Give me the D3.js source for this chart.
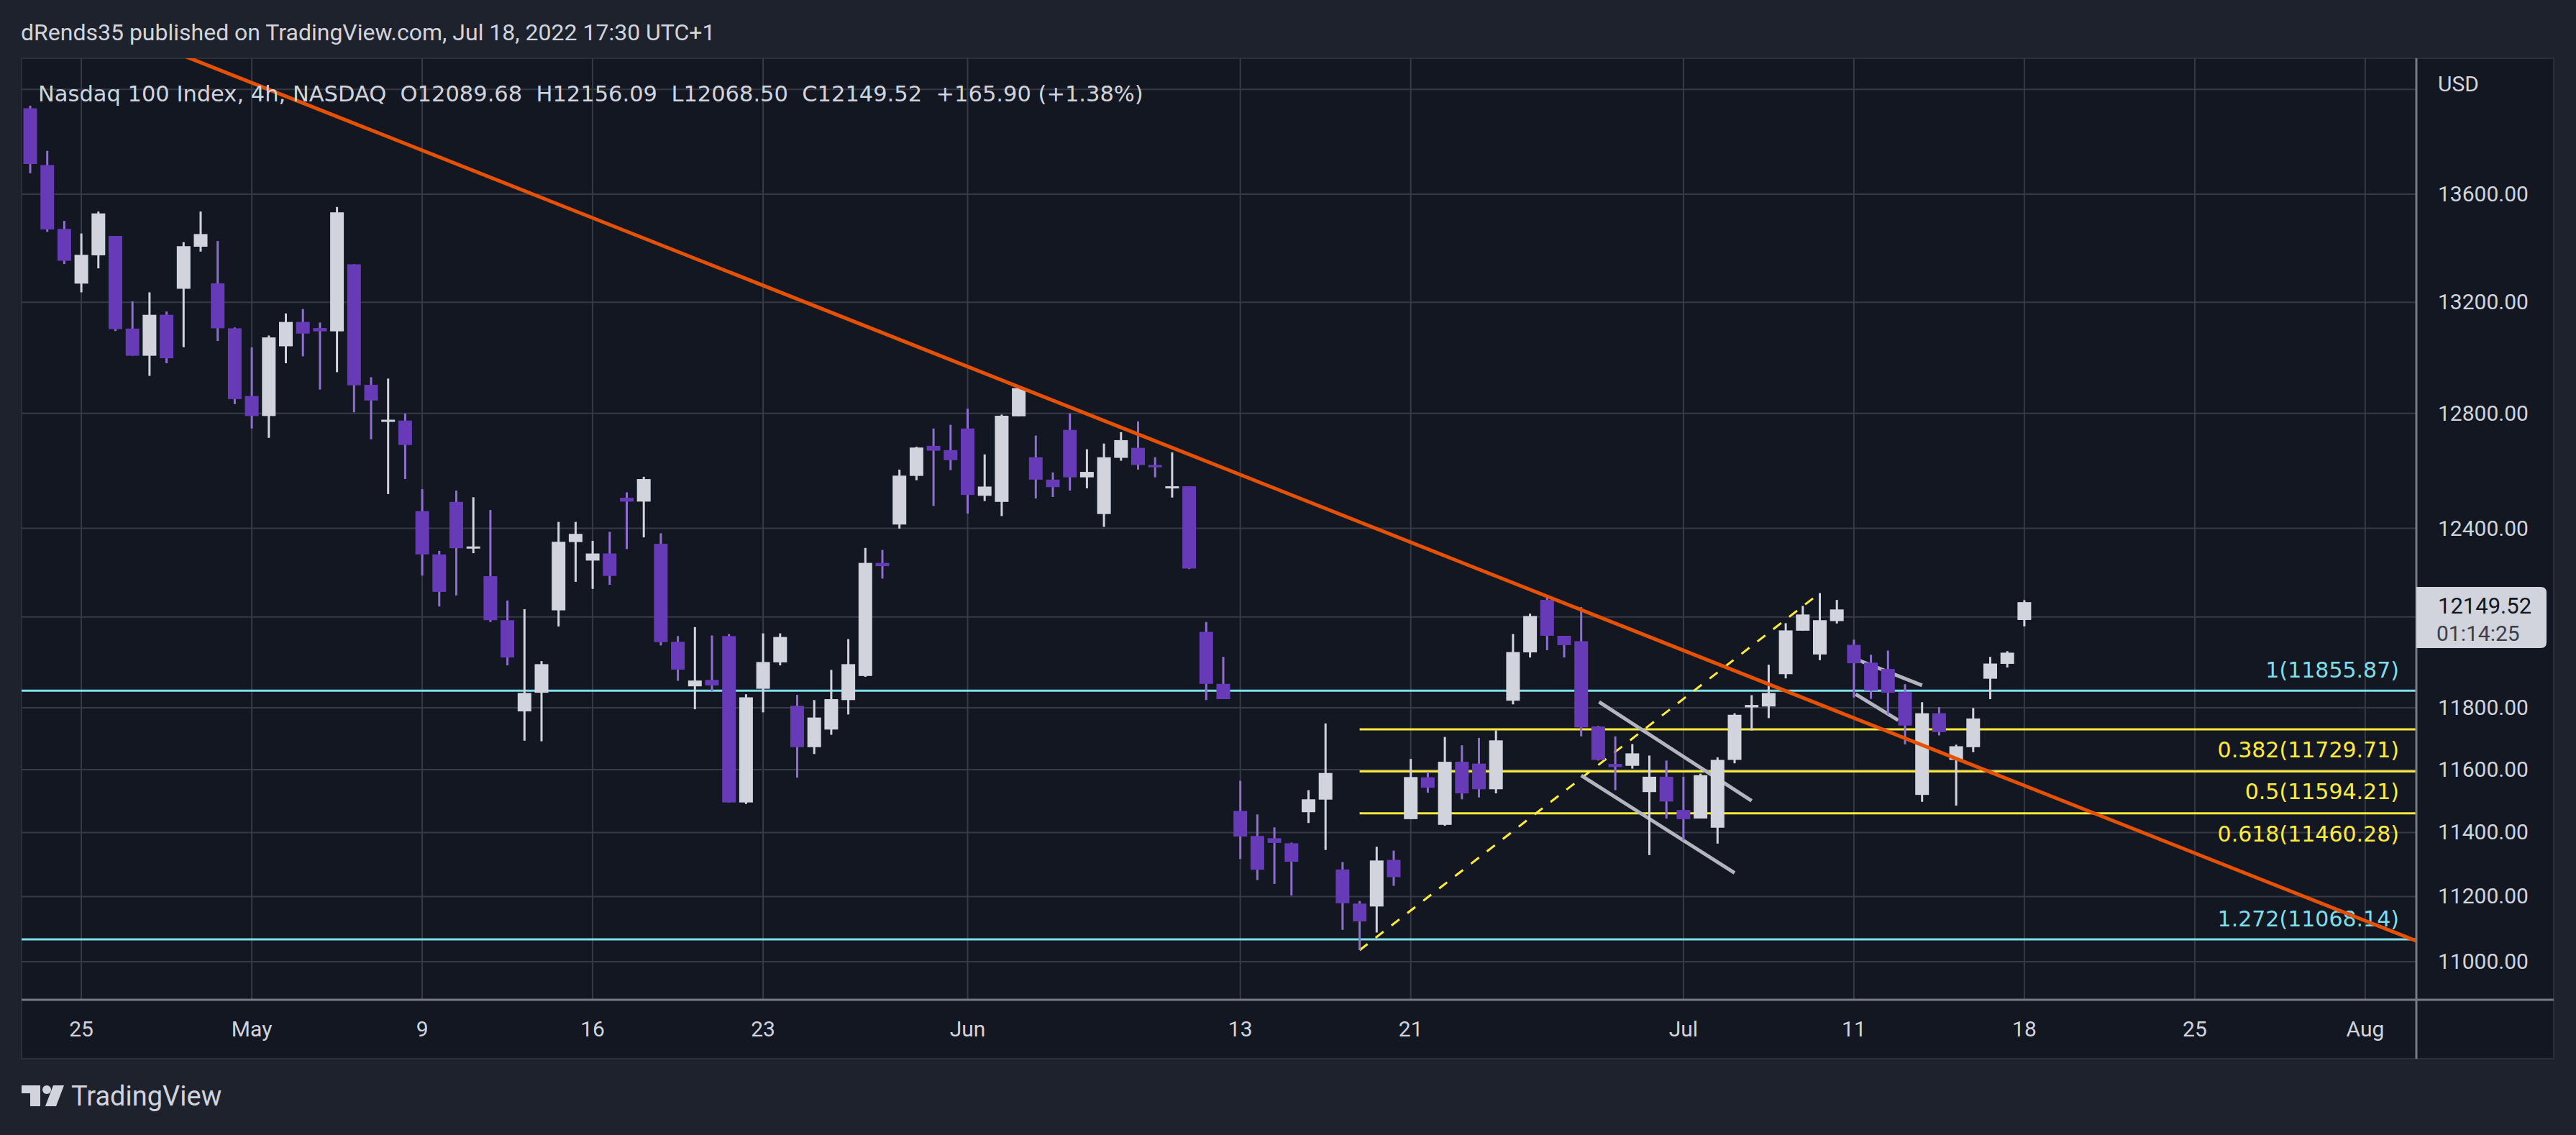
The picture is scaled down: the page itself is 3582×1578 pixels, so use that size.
<!DOCTYPE html>
<html>
<head>
<meta charset="utf-8">
<script src="https://cdn.jsdelivr.net/npm/d3@7"></script>
<style>
  html, body { margin: 0; padding: 0; background: #1e222d; }
  svg text { font-family: Roboto, "Noto Sans", sans-serif; }
  svg text.wide { font-family: "DejaVu Sans", sans-serif; }
</style>
</head>
<body>
<svg id="chart" width="3582" height="1578"></svg>
<script>
// 4h candles, NASDAQ 100 (Apr 21 pm .. Jul 18 am)
var opens = [13927,13710,13470,13268,13372,13444,13104,13006,13154,13249,13404,13269,13105,12862,12791,13040,13128,13106,13094,13339,
  12902,12773,12775,12459,12311,12491,12333,12237,12089,11788,11849,12122,12353,12290,12314,12505,12492,12347,12017,11870,
  11891,12036,11495,11862,11949,11806,11672,11729,11825,11904,12282,12413,12581,12686,12671,12747,12512,12491,12790,12646,
  12568,12742,12576,12449,12644,12679,12619,12539,12545,12050,11878,11468,11389,11382,11366,11464,11504,11284,11178,11169,
  11314,11442,11575,11424,11625,11619,11537,11823,11982,12157,12037,12019,11739,11618,11612,11528,11577,11471,11444,11415,
  11631,11801,11804,11910,12054,11975,12086,12007,11948,11927,11851,11519,11782,11631,11672,11895,11944,12089.68];
var highs = [13937,13764,13500,13453,13535,13444,13203,13236,13166,13421,13535,13425,13108,13036,13079,13159,13175,13126,13552,13339,
  12929,12924,12800,12535,12323,12530,12507,12463,12155,12126,11953,12422,12422,12357,12388,12524,12578,12383,12036,12066,
  12038,12043,11844,12045,12045,11842,11825,11924,12026,12333,12326,12603,12683,12747,12760,12817,12656,12796,12893,12722,
  12593,12800,12674,12694,12734,12772,12646,12663,12545,12083,11967,11564,11457,11416,11368,11534,11749,11307,11186,11355,
  11343,11634,11593,11705,11678,11702,11726,12043,12111,12172,12037,12133,11741,11707,11682,11645,11629,11577,11587,11639,
  11782,11841,11941,12079,12137,12180,12157,12024,11974,11988,11877,11818,11802,11680,11799,11967,11986,12156.09];
var lows = [13679,13459,13340,13236,13324,13095,13006,12934,12979,13037,13386,13059,12833,12747,12714,12979,13004,12885,12947,12804,
  12709,12518,12570,12239,12135,12172,12315,12083,11939,11693,11691,12068,12218,12194,12208,12329,12369,12005,11888,11795,
  11854,11495,11490,11785,11939,11574,11650,11712,11778,11901,12229,12399,12566,12477,12601,12451,12494,12442,12790,12503,
  12508,12530,12538,12405,12634,12603,12576,12506,12261,11825,11828,11317,11251,11239,11203,11430,11345,11097,11035,11089,
  11233,11442,11526,11421,11505,11511,11524,11811,11965,11989,11965,11707,11629,11534,11603,11329,11444,11375,11444,11365,
  11620,11726,11766,11896,12054,11956,12078,11833,11829,11778,11681,11497,11710,11485,11656,11828,11932,12068.50];
var closes = [13714,13468,13352,13374,13528,13102,13006,13154,12997,13406,13451,13105,12851,12791,13072,13128,13086,13094,13532,12900,
  12846,12778,12689,12311,12184,12332,12338,12089,11965,11848,11943,12354,12381,12314,12238,12492,12570,12016,11925,11889,
  11873,11495,11834,11950,12033,11672,11768,11828,11943,12282,12271,12582,12680,12669,12636,12515,12544,12792,12890,12568,
  12542,12576,12595,12646,12706,12619,12611,12545,12263,11878,11828,11387,11283,11367,11308,11505,11589,11179,11123,11312,
  11260,11576,11542,11625,11524,11537,11694,11983,12103,12037,12006,11736,11631,11608,11652,11577,11498,11442,11582,11631,
  11777,11809,11848,12055,12108,12089,12125,11946,11856,11849,11742,11782,11721,11675,11765,11945,11981,12149.52];

// time axis: candle index of each labelled week/month start
var timeTickIdx = [3, 13, 23, 33, 43, 55, 71, 81, 97, 107, 117, 127, 137];
var timeTickLabels = ["25", "May", "9", "16", "23", "Jun", "13", "21", "Jul", "11", "18", "25", "Aug"];

var priceTicks = [13600, 13200, 12800, 12400, 11800, 11600, 11400, 11200, 11000];
var gridPrices = [14000, 13600, 13200, 12800, 12400, 12100, 11800, 11600, 11400, 11200, 11000];

// fib levels
var fibLevels = [1, 0.382, 0.5, 0.618, 1.272];
var fibPrices = [11855.87, 11729.71, 11594.21, 11460.28, 11068.14];

// drawings [idx, price]
var trendLine = [[27.76, 13644], [140, 11063]];
var fibAnchor = [[78, 11035], [105, 12180]];
var channelA = [[[92.05, 11819], [101, 11500]], [[91, 11581], [100, 11273]]];
var channelB = [[[107.1, 11960], [111, 11873]], [[107.1, 11844], [109.6, 11759]]];

var lastPrice = "12149.52", countdown = "01:14:25";

var W = 3582, H = 1578;
var plot = { left: 30, top: 81, right: 3360, bottom: 1390 };
var panelRight = 3551, panelBottom = 1472;

var svg = d3.select("#chart");

var x = d3.scaleLinear().domain([0, 140]).range([42, 42 + 140 * 23.7]);
var y = d3.scaleLog().domain([11000, 13600]).range([1337, 270]);

svg.append("rect").attr("width", W).attr("height", H).attr("fill", "#1e222d");
svg.append("rect").attr("x", plot.left).attr("y", plot.top)
  .attr("width", panelRight - plot.left).attr("height", panelBottom - plot.top)
  .attr("fill", "#131722").attr("stroke", "#2a2e39").attr("stroke-width", 2);

svg.append("clipPath").attr("id", "clip").append("rect")
  .attr("x", plot.left).attr("y", plot.top)
  .attr("width", plot.right - plot.left).attr("height", plot.bottom - plot.top);

var g = svg.append("g").attr("clip-path", "url(#clip)");

// grid
g.selectAll("line.hgrid").data(gridPrices).enter().append("line")
  .attr("x1", plot.left).attr("x2", plot.right)
  .attr("y1", function(d) { return y(d); }).attr("y2", function(d) { return y(d); })
  .attr("stroke", "#363a45").attr("stroke-width", 2);
g.selectAll("line.vgrid").data(timeTickIdx).enter().append("line")
  .attr("y1", plot.top).attr("y2", plot.bottom)
  .attr("x1", function(d) { return x(d); }).attr("x2", function(d) { return x(d); })
  .attr("stroke", "#363a45").attr("stroke-width", 2);

// fib lines
var fibColor = function(l) { return (l === 1 || l === 1.272) ? "#80deea" : "#ffeb3b"; };
fibLevels.forEach(function(l, i) {
  var isCyan = (l === 1 || l === 1.272);
  g.append("line")
    .attr("x1", isCyan ? plot.left : x(fibAnchor[0][0])).attr("x2", plot.right)
    .attr("y1", y(fibPrices[i])).attr("y2", y(fibPrices[i]))
    .attr("stroke", fibColor(l)).attr("stroke-width", 3);
  g.append("text").attr("class", "wide")
    .attr("x", 3336).attr("y", y(fibPrices[i]) + (isCyan ? -18 : 39))
    .attr("text-anchor", "end").attr("font-size", 30)
    .attr("fill", fibColor(l))
    .text(l + "(" + fibPrices[i].toFixed(2) + ")");
});

g.append("line")
  .attr("x1", x(fibAnchor[0][0])).attr("y1", y(fibAnchor[0][1]))
  .attr("x2", x(fibAnchor[1][0])).attr("y2", y(fibAnchor[1][1]))
  .attr("stroke", "#ffeb3b").attr("stroke-width", 3).attr("stroke-dasharray", "14,14");

// channels
channelA.concat(channelB).forEach(function(seg) {
  g.append("line")
    .attr("x1", x(seg[0][0])).attr("y1", y(seg[0][1]))
    .attr("x2", x(seg[1][0])).attr("y2", y(seg[1][1]))
    .attr("stroke", "#b2b5be").attr("stroke-width", 5);
});

// candles
var candles = g.selectAll("g.candle").data(d3.range(closes.length)).enter().append("g");
var isUp = function(i) { return closes[i] >= opens[i]; };
candles.append("line")
  .attr("x1", function(i) { return x(i); }).attr("x2", function(i) { return x(i); })
  .attr("y1", function(i) { return y(highs[i]); }).attr("y2", function(i) { return y(lows[i]); })
  .attr("stroke", function(i) { return isUp(i) ? "#d1d4dc" : "#8e6fd1"; })
  .attr("stroke-width", 3);
candles.append("rect")
  .attr("x", function(i) { return x(i) - 9.5; }).attr("width", 19)
  .attr("y", function(i) { return y(Math.max(opens[i], closes[i])); })
  .attr("height", function(i) { return Math.max(3, y(Math.min(opens[i], closes[i])) - y(Math.max(opens[i], closes[i]))); })
  .attr("fill", function(i) { return isUp(i) ? "#d1d4dc" : "#673ab7"; });

// trend line (extended to the plot edges)
var tl = function(idx) {
  var t = (idx - trendLine[0][0]) / (trendLine[1][0] - trendLine[0][0]);
  return Math.exp(Math.log(trendLine[0][1]) + t * (Math.log(trendLine[1][1]) - Math.log(trendLine[0][1])));
};
g.append("line")
  .attr("x1", x(0)).attr("y1", y(tl(0)))
  .attr("x2", x(140)).attr("y2", y(tl(140)))
  .attr("stroke", "#e65100").attr("stroke-width", 5);

// axes borders
svg.append("line").attr("x1", plot.right).attr("x2", plot.right)
  .attr("y1", plot.top).attr("y2", panelBottom).attr("stroke", "#787b86").attr("stroke-width", 3);
svg.append("line").attr("x1", plot.left).attr("x2", panelRight)
  .attr("y1", plot.bottom).attr("y2", plot.bottom).attr("stroke", "#787b86").attr("stroke-width", 3);

// price axis
svg.selectAll("text.ptick").data(priceTicks).enter().append("text")
  .attr("x", 3390).attr("y", function(d) { return y(d) + 10; })
  .attr("font-size", 30).attr("fill", "#d1d4dc")
  .text(function(d) { return d.toFixed(2); });
svg.append("text").attr("x", 3390).attr("y", 127).attr("font-size", 30).attr("fill", "#d1d4dc").text("USD");

svg.append("path")
  .attr("d", "M3360,816 H3533 Q3541,816 3541,824 V893 Q3541,901 3533,901 H3360 Z")
  .attr("fill", "#d1d4dc");
svg.append("text").attr("x", 3390).attr("y", 853).attr("font-size", 31).attr("fill", "#131722").text(lastPrice);
svg.append("text").attr("x", 3388).attr("y", 891).attr("font-size", 30).attr("fill", "#3b3f4a").text(countdown);

// time axis
svg.selectAll("text.ttick").data(timeTickIdx).enter().append("text")
  .attr("x", function(d) { return x(d); }).attr("y", 1441)
  .attr("text-anchor", "middle").attr("font-size", 30).attr("fill", "#d1d4dc")
  .text(function(d, i) { return timeTickLabels[i]; });

// header, legend, logo
svg.append("text").attr("x", 29).attr("y", 56).attr("font-size", 32).attr("fill", "#d1d4dc")
  .text("dRends35 published on TradingView.com, Jul 18, 2022 17:30 UTC+1");
svg.append("text").attr("class", "wide").attr("x", 53).attr("y", 141).attr("font-size", 30.5).attr("fill", "#d1d4dc")
  .attr("xml:space", "preserve")
  .text("Nasdaq 100 Index, 4h, NASDAQ  O12089.68  H12156.09  L12068.50  C12149.52  +165.90 (+1.38%)");

var logo = svg.append("g").attr("fill", "#d1d4dc");
logo.append("path").attr("d", "M30,1509 H56 V1538 H42 V1520 H30 Z");
logo.append("circle").attr("cx", 65).attr("cy", 1515).attr("r", 6);
logo.append("path").attr("d", "M74,1509 H89 L78,1538 H63 Z");
logo.append("text").attr("x", 99).attr("y", 1537).attr("font-size", 38).text("TradingView");
</script>
</body>
</html>
